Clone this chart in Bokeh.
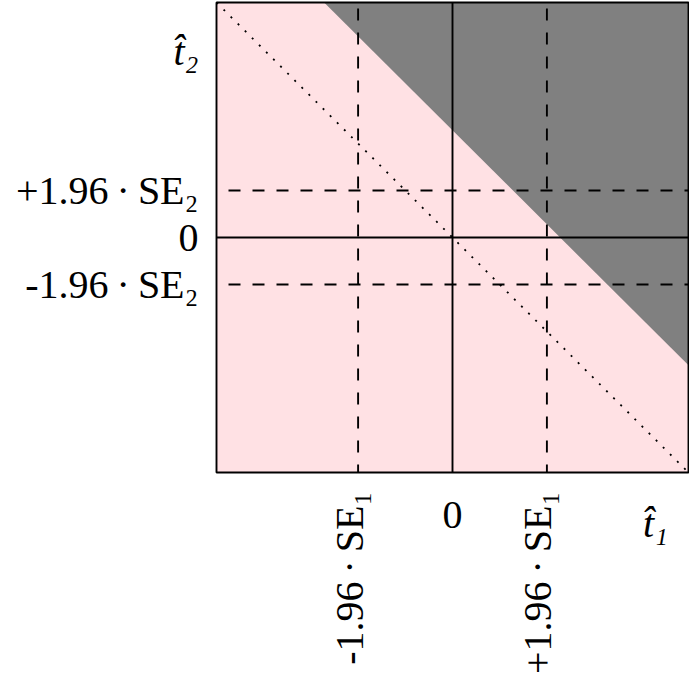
import math
from bokeh.plotting import figure
from bokeh.models import Range1d
from bokeh.core.properties import value
from bokeh.embed import file_html
from bokeh.resources import INLINE

# ---- data ----
lim = 2.5            # half-width of the plotted t-space
se1_crit = 1.0       # 1.96*SE1
se2_crit = 0.5       # 1.96*SE2
boundary = 1.14      # rejection boundary: t1 + t2 = boundary
x_tick_values = [-se1_crit, 0.0, se1_crit]
x_tick_labels = ["-1.96\u2009\u00b7\u2009SE\u2081", "0", "+1.96\u2009\u00b7\u2009SE\u2081"]
x_axis_label = "t\u0302\u2081"
y_tick_values = [se2_crit, 0.0, -se2_crit]
y_tick_labels = ["+1.96\u2009\u00b7\u2009SE\u2082", "0", "-1.96\u2009\u00b7\u2009SE\u2082"]
y_axis_label = "t\u0302\u2082"

FONT = value("Liberation Serif")
FS = value("40px")
LW = 1.9
SX = 94.4   # px per unit horizontally
SY = 94.0   # px per unit vertically
X0, Y0 = 452, 237   # page position of the origin


def xd(px):
    return (px - X0) / SX


def yd(py):
    return (Y0 - py) / SY


p = figure(width=689, height=689,
           x_range=Range1d(xd(0), xd(689)), y_range=Range1d(yd(689), yd(0)),
           x_axis_type=None, y_axis_type=None,
           min_border_left=0, min_border_right=0,
           min_border_top=0, min_border_bottom=0,
           output_backend="svg", toolbar_location=None)
p.background_fill_color = "white"
p.border_fill_color = "white"
p.outline_line_color = None

# plot area background
p.quad(left=[-lim], right=[lim], bottom=[-lim], top=[lim],
       fill_color="#FFE1E4", line_color=None)
# rejection region
p.patch([boundary - lim, lim, lim], [lim, lim, boundary - lim],
        fill_color="#808080", line_color=None)
# diagonal t2 = -t1
p.line([-lim, lim], [lim, -lim], line_color="black", line_width=1.8,
       line_dash="2 8")

# reference lines
for v in x_tick_values:
    if v == 0:
        p.segment(x0=[v], y0=[-lim], x1=[v], y1=[lim], line_color="black", line_width=LW)
    else:
        p.segment(x0=[v], y0=[-lim], x1=[v], y1=[lim], line_color="black", line_width=LW,
                  line_dash="12 12", line_dash_offset=4)
for v in y_tick_values:
    if v == 0:
        p.segment(x0=[-lim], y0=[v], x1=[lim], y1=[v], line_color="black", line_width=LW)
    else:
        p.segment(x0=[-lim], y0=[v], x1=[lim], y1=[v], line_color="black", line_width=LW,
                  line_dash="12 12", line_dash_offset=12)

# frame
p.quad(left=[-lim], right=[lim], bottom=[-lim], top=[lim],
       fill_color=None, line_color="black", line_width=LW)

# y tick labels
p.text(x=[xd(198)] * len(y_tick_values), y=y_tick_values, text=y_tick_labels,
       text_font=FONT, text_font_size=FS, text_align="right", text_baseline="middle",
       text_color="black")
p.text(x=[xd(198)], y=[yd(51)], text=[y_axis_label], text_font=FONT, text_font_size=FS,
       text_font_style="italic", text_align="right", text_baseline="alphabetic",
       text_color="black")

# x tick labels
for v, t in zip(x_tick_values, x_tick_labels):
    if v == 0:
        p.text(x=[v], y=[yd(514)], text=[t], text_font=FONT, text_font_size=FS,
               text_align="center", text_baseline="alphabetic", text_color="black")
    else:
        p.text(x=[v], y=[yd(491)], x_offset=-9, text=[t], text_font=FONT,
               text_font_size=FS, text_align="right", text_baseline="middle",
               angle=math.pi / 2, text_color="black")
p.text(x=[xd(655)], y=[yd(523)], text=[x_axis_label], text_font=FONT, text_font_size=FS,
       text_font_style="italic", text_align="center", text_baseline="alphabetic",
       text_color="black")

open("out.html", "w").write(file_html(p, INLINE))
